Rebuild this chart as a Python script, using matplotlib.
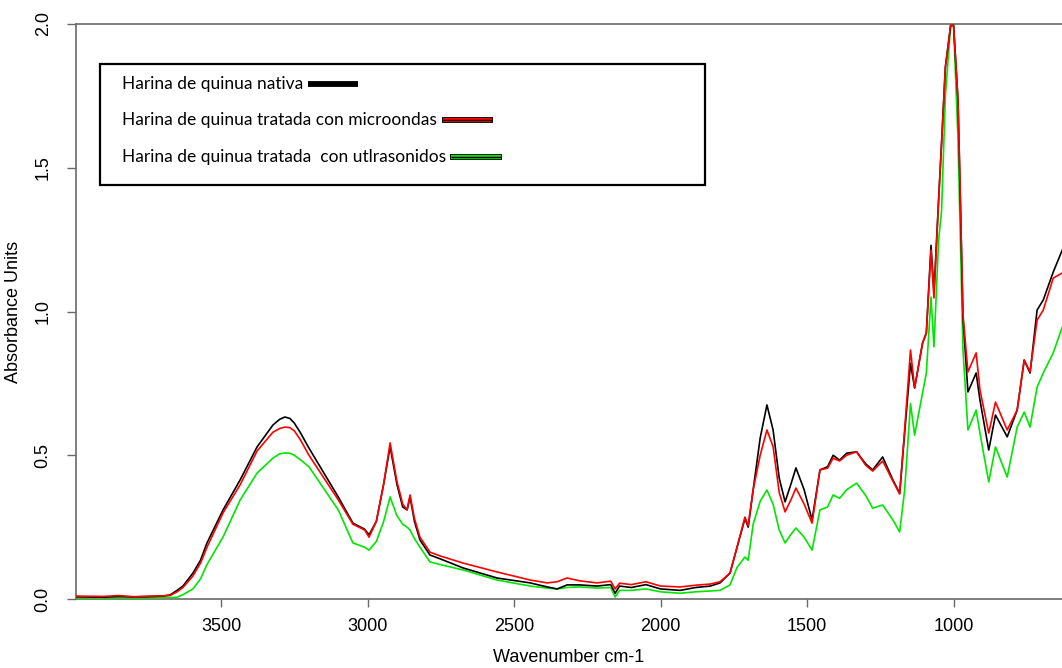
import matplotlib
matplotlib.use("Agg")
import matplotlib.pyplot as plt
from matplotlib.patches import Rectangle
from matplotlib.lines import Line2D

# FTIR spectra of quinoa flour (absorbance vs wavenumber)
wavenumber = [
    3995, 3900, 3850, 3800, 3750, 3700, 3674, 3650, 3630, 3596, 3570, 3548,
    3493, 3435, 3377, 3323, 3300, 3282, 3265, 3250, 3230, 3200, 3100, 3050, 3010, 2995, 2970,
    2945, 2923, 2900, 2880, 2865, 2855, 2840, 2821, 2787, 2753, 2674, 2558,
    2445, 2387, 2353, 2319, 2275, 2217, 2170, 2155, 2140, 2100, 2050, 2000,
    1933, 1880, 1830, 1797, 1763, 1739, 1712, 1701, 1684, 1660, 1637, 1616,
    1595, 1575, 1555, 1538, 1510, 1483, 1456, 1430, 1411, 1389, 1365, 1331,
    1300, 1276, 1242, 1207, 1184, 1167, 1147, 1133, 1106, 1093, 1077, 1067,
    1051, 1041, 1028, 1010, 1000, 985, 978, 968, 951, 923, 910, 880,
    857, 817, 783, 759, 739, 715, 694, 660, 629,
]

nativa = [
    0.008, 0.006, 0.009, 0.007, 0.008, 0.010, 0.014, 0.030, 0.045, 0.090, 0.135, 0.195,
    0.310, 0.414, 0.529, 0.605, 0.625, 0.633, 0.628, 0.612, 0.580, 0.525, 0.355, 0.264, 0.243, 0.223, 0.270,
    0.400, 0.530, 0.400, 0.320, 0.310, 0.355, 0.270, 0.205, 0.153, 0.140, 0.108, 0.073,
    0.056, 0.042, 0.035, 0.049, 0.049, 0.045, 0.050, 0.020, 0.045, 0.040, 0.050, 0.035,
    0.030, 0.040, 0.045, 0.056, 0.090, 0.180, 0.280, 0.250, 0.380, 0.560, 0.675, 0.588,
    0.420, 0.338, 0.400, 0.456, 0.380, 0.275, 0.449, 0.460, 0.500, 0.483, 0.507, 0.512,
    0.470, 0.449, 0.494, 0.414, 0.368, 0.577, 0.820, 0.734, 0.890, 0.925, 1.230, 1.068,
    1.390, 1.586, 1.850, 1.995, 1.995, 1.736, 1.433, 0.980, 0.720, 0.786, 0.692, 0.518,
    0.640, 0.564, 0.657, 0.831, 0.786, 1.005, 1.040, 1.137, 1.214,
]

microondas = [
    0.010, 0.009, 0.012, 0.008, 0.010, 0.011, 0.012, 0.025, 0.040, 0.080, 0.125, 0.180,
    0.300, 0.397, 0.515, 0.580, 0.593, 0.598, 0.596, 0.585, 0.555, 0.500, 0.345, 0.260, 0.240, 0.215, 0.270,
    0.400, 0.543, 0.410, 0.330, 0.310, 0.362, 0.280, 0.215, 0.163, 0.150, 0.125, 0.094,
    0.066, 0.056, 0.060, 0.073, 0.063, 0.056, 0.062, 0.035, 0.055, 0.050, 0.060, 0.045,
    0.042, 0.048, 0.052, 0.060, 0.090, 0.180, 0.285, 0.255, 0.380, 0.500, 0.588, 0.530,
    0.370, 0.303, 0.345, 0.386, 0.330, 0.264, 0.449, 0.455, 0.490, 0.480, 0.500, 0.512,
    0.465, 0.445, 0.480, 0.410, 0.365, 0.590, 0.866, 0.734, 0.890, 0.925, 1.214, 1.047,
    1.390, 1.586, 1.850, 1.995, 1.995, 1.736, 1.450, 0.990, 0.790, 0.856, 0.727, 0.577,
    0.685, 0.588, 0.657, 0.831, 0.790, 0.970, 1.005, 1.116, 1.134,
]

ultrasonidos = [
    0.004, 0.003, 0.004, 0.003, 0.004, 0.005, 0.005, 0.006, 0.015, 0.035, 0.070, 0.120,
    0.216, 0.344, 0.438, 0.490, 0.505, 0.508, 0.507, 0.500, 0.485, 0.460, 0.310, 0.195, 0.180, 0.170, 0.200,
    0.270, 0.355, 0.290, 0.260, 0.250, 0.240, 0.210, 0.180, 0.129, 0.120, 0.101, 0.066,
    0.045, 0.038, 0.035, 0.040, 0.042, 0.038, 0.040, 0.007, 0.030, 0.030, 0.035, 0.025,
    0.020, 0.025, 0.028, 0.030, 0.049, 0.110, 0.146, 0.135, 0.260, 0.340, 0.379, 0.330,
    0.240, 0.195, 0.225, 0.247, 0.215, 0.170, 0.310, 0.320, 0.362, 0.350, 0.380, 0.403,
    0.360, 0.316, 0.327, 0.275, 0.233, 0.379, 0.680, 0.570, 0.716, 0.786, 1.050, 0.877,
    1.250, 1.350, 1.750, 1.995, 1.995, 1.600, 1.300, 0.866, 0.588, 0.657, 0.577, 0.407,
    0.529, 0.424, 0.598, 0.650, 0.598, 0.737, 0.786, 0.856, 0.946,
]

x_ticks = [3500, 3000, 2500, 2000, 1500, 1000]
y_ticks = [0.0, 0.5, 1.0, 1.5, 2.0]

legend_labels = [
    "Harina de quinua nativa",
    "Harina de quinua tratada con microondas",
    "Harina de quinua tratada  con utlrasonidos",
]
colors = ["#000000", "#ff0000", "#00e600"]

W, H = 1062, 668
fig = plt.figure(figsize=(W / 100, H / 100), dpi=100)
ax = fig.add_axes([76 / W, 1 - 599 / H, 1 - 76 / W, (599 - 24) / H])

axis_font = "Liberation Sans"
spine_col = "#6a6a6a"

ax.plot(wavenumber, ultrasonidos, color=colors[2], lw=1.2, zorder=3)
ax.plot(wavenumber, nativa, color=colors[0], lw=1.2, zorder=4)
ax.plot(wavenumber, microondas, color=colors[1], lw=1.2, zorder=5)

ax.set_xlim(3995, 630)
ax.set_ylim(0, 2.0)
ax.set_xticks(x_ticks)
ax.set_yticks(y_ticks)
ax.set_xticklabels([str(t) for t in x_ticks], family=axis_font, fontsize=13)
ax.set_yticklabels([f"{t:.1f}" for t in y_ticks], family=axis_font, fontsize=13,
                   rotation=90, va="center")
ax.tick_params(axis="x", length=6, width=1, color=spine_col, pad=8)
ax.tick_params(axis="y", length=6.5, width=1, color=spine_col, pad=11)
ax.set_xlabel("Wavenumber cm-1", family=axis_font, fontsize=13, labelpad=10)
ax.set_ylabel("Absorbance Units", family=axis_font, fontsize=13, labelpad=9)
for side in ("left", "bottom", "top"):
    ax.spines[side].set_color(spine_col)
    ax.spines[side].set_linewidth(1.2)
ax.spines["right"].set_visible(False)


def fx(px):
    return px / W


def fy(py):
    return 1 - py / H


# legend box drawn in figure pixel space
fig.patches.append(Rectangle((fx(100), fy(185)), fx(705) - fx(100), fy(64) - fy(185),
                             transform=fig.transFigure, fill=False,
                             edgecolor="black", lw=1.6, zorder=10))
rows_y = [84, 120, 157]
sample_x = [(308, 358), (442, 493), (450, 502)]
for label, yy, (x0, x1), c in zip(legend_labels, rows_y, sample_x, colors):
    fig.text(fx(122), fy(yy), label, family="Lato", fontsize=12.5,
             va="center", ha="left")
    fig.add_artist(Line2D([fx(x0), fx(x1)], [fy(yy), fy(yy)], color="black",
                          lw=4.2, solid_capstyle="butt", transform=fig.transFigure))
    fig.add_artist(Line2D([fx(x0 + 1), fx(x1 - 1)], [fy(yy), fy(yy)], color=c,
                          lw=3.0, solid_capstyle="butt", transform=fig.transFigure))
    fig.add_artist(Line2D([fx(x0 + 1), fx(x1 - 1)], [fy(yy), fy(yy)], color="black",
                          lw=1.0, solid_capstyle="butt", transform=fig.transFigure))

fig.savefig("out.png", dpi=100)
